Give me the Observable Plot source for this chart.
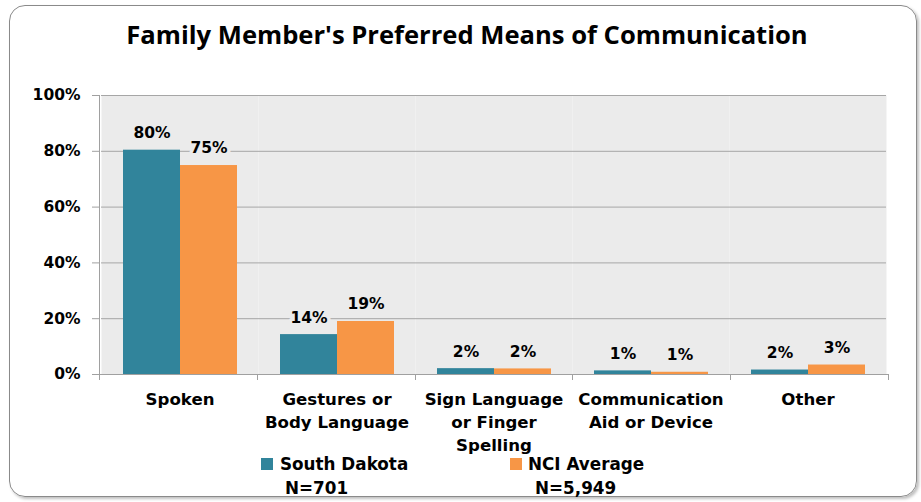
<!DOCTYPE html>
<html>
<head>
<meta charset="utf-8">
<script src="https://cdn.jsdelivr.net/npm/d3@7"></script>
<script src="https://cdn.jsdelivr.net/npm/@observablehq/plot@0.6"></script>
<style>
  html, body { margin: 0; padding: 0; background: #fff; }
  #wrap { position: relative; width: 921px; height: 502px; overflow: hidden; font-family: "DejaVu Sans", sans-serif; }
  #border { position: absolute; left: 9px; top: 5px; width: 906px; height: 490px; border: 1.5px solid #8a8a8a; border-radius: 16px; box-shadow: 2px 2px 3px rgba(0,0,0,0.25); }
  #title { position: absolute; left: 0; width: 921px; top: 17px; text-align: center; font-family: "Open Sans", sans-serif; font-weight: bold; font-size: 25.6px; line-height: 36px; color: #000; padding-left: 13px; box-sizing: border-box; }
  #chart { position: absolute; left: 0; top: 0; }
  .leg { position: absolute; font-weight: bold; font-size: 16.8px; line-height: 20px; color: #000; white-space: nowrap; }
  .sw { position: absolute; width: 12px; height: 12px; }
</style>
</head>
<body>
<div id="wrap">
  <div id="border"></div>
  <div id="chart"></div>
  <div id="title"></div>
  <div id="legend"></div>
</div>
<script>
const titleText = "Family Member's Preferred Means of Communication";
const categories = ["Spoken", "Gestures or Body Language", "Sign Language or Finger Spelling", "Communication Aid or Device", "Other"];
const categoryLabels = ["Spoken", "Gestures or\nBody Language", "Sign Language\nor Finger\nSpelling", "Communication\nAid or Device", "Other"];
const series = ["South Dakota", "NCI Average"];
const seriesN = ["N=701", "N=5,949"];
const colors = ["#31849B", "#F79646"];
const southDakota = [80.4, 14.3, 2.1, 1.3, 1.6];
const nciAverage = [74.9, 19.0, 2.0, 0.8, 3.4];
const yTicks = [0, 20, 40, 60, 80, 100];

const data = [];
categories.forEach((c, i) => {
  data.push({category: c, series: series[0], value: southDakota[i]});
  data.push({category: c, series: series[1], value: nciAverage[i]});
});

document.getElementById("title").textContent = titleText;

const font = "DejaVu Sans, sans-serif";

const plot = Plot.plot({
  width: 921,
  height: 502,
  marginLeft: 99,
  marginRight: 33,
  marginTop: 95,
  marginBottom: 128,
  style: {fontFamily: font, fontWeight: "bold", fontSize: "15px", background: "transparent", color: "#000"},
  fx: {domain: categories, padding: 0, axis: null, label: null},
  x: {domain: series, paddingInner: 0, paddingOuter: 0.36, axis: null, label: null},
  y: {domain: [0, 100], nice: false, axis: null, label: null},
  color: {domain: series, range: colors},
  marks: [
    Plot.frame({fill: "#EBEBEB", stroke: null}),
    Plot.gridY(yTicks, {stroke: "#a6a6a6", strokeOpacity: 1, strokeWidth: 1}),
    Plot.barY(data, {fx: "category", x: "series", y: "value", fill: "series"}),
    Plot.text(data, {
      fx: "category", x: "series", y: "value",
      text: d => Math.round(d.value) + "%",
      dy: -17, fill: "#000", stroke: "#EBEBEB", strokeWidth: 7,
      fontSize: 15.5, fontWeight: "bold"
    }),
    Plot.text(categories, {
      fx: d => d,
      text: (d, i) => categoryLabels[i],
      frameAnchor: "bottom", lineAnchor: "top", dy: 14,
      lineHeight: 1.39, fontSize: 16.6, fontWeight: "bold", fill: "#000"
    }),
    Plot.axisY(yTicks, {
      label: null,
      tickSize: 7, tickPadding: 12, stroke: "#a0a0a0", fill: "#000",
      tickFormat: d => d + "%", fontSize: 15.5, fontWeight: "bold", dx: -2
    })
  ]
});
document.getElementById("chart").appendChild(plot);

// axis line and category boundary ticks from the plot's own scales
const fxS = plot.scale("fx");
const yS = plot.scale("y");
const yPos = v => yS.range[0] + (v - yS.domain[0]) / (yS.domain[1] - yS.domain[0]) * (yS.range[1] - yS.range[0]);
const fr = fxS.range;
const step = (fr[1] - fr[0]) / fxS.domain.length;
const g = d3.select(plot).append("g").attr("stroke", "#a0a0a0").attr("stroke-width", 1);
g.append("line").attr("x1", fr[0] + 0.5).attr("x2", fr[0] + 0.5).attr("y1", yPos(100)).attr("y2", yPos(0) + 0.5);
g.append("line").attr("x1", fr[0]).attr("x2", fr[1]).attr("y1", yPos(0) + 0.5).attr("y2", yPos(0) + 0.5);
for (let i = 0; i <= fxS.domain.length; i++) {
  const x = Math.round(fr[0] + i * step) + 0.5;
  g.append("line").attr("x1", x).attr("x2", x).attr("y1", yPos(0)).attr("y2", yPos(0) + 6);
}

// legend
const legend = document.getElementById("legend");
const legPos = [{sx: 261, tx: 280, nx: 285}, {sx: 510, tx: 528, nx: 535}];
series.forEach((s, i) => {
  const p = legPos[i];
  const sw = document.createElement("div");
  sw.className = "sw"; sw.style.left = p.sx + "px"; sw.style.top = "458px"; sw.style.background = colors[i];
  legend.appendChild(sw);
  const t = document.createElement("div");
  t.className = "leg"; t.style.left = p.tx + "px"; t.style.top = "454px"; t.textContent = s;
  legend.appendChild(t);
  const n = document.createElement("div");
  n.className = "leg"; n.style.left = p.nx + "px"; n.style.top = "478px"; n.textContent = seriesN[i];
  legend.appendChild(n);
});
</script>
</body>
</html>
